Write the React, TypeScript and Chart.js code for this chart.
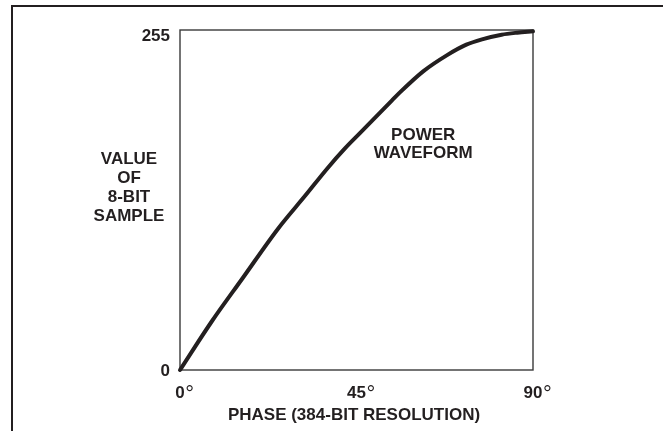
import React, { useEffect, useRef } from "react";
import { Chart, registerables } from "chart.js";

Chart.register(...registerables);

// Values
const phaseDeg = [0, 8, 16, 25, 32, 37.5, 42, 46, 54, 56, 62, 68, 73, 77, 82, 86, 90];
const sampleValue = [0, 36, 69, 106, 131, 151, 166, 178, 202, 208, 224, 236, 244, 248, 251.5, 253, 254];
const xTickValues = [0, 45, 90];
const yTickValues = [0, 255];
const yTitleLines = ["VALUE", "OF", "8-BIT", "SAMPLE"];
const xTitle = "PHASE (384-BIT RESOLUTION)";
const curveLabelLines = ["POWER", "WAVEFORM"];

const INK = "#231f20";
const FONT = "'Liberation Sans', Arial, Helvetica, sans-serif";

const decorPlugin = {
  id: "decor",
  beforeDatasetsDraw(chart: any) {
    const ctx = chart.ctx as CanvasRenderingContext2D;
    const a = chart.chartArea;
    ctx.save();
    ctx.strokeStyle = INK;
    ctx.lineWidth = 2;
    ctx.beginPath();
    ctx.moveTo(12, 431);
    ctx.lineTo(12, 6);
    ctx.lineTo(663, 6);
    ctx.stroke();
    ctx.strokeStyle = "#3a3a3a";
    ctx.lineWidth = 1.4;
    ctx.strokeRect(a.left, a.top, a.right - a.left, a.bottom - a.top);
    ctx.restore();
  },
  afterDraw(chart: any) {
    const ctx = chart.ctx as CanvasRenderingContext2D;
    const a = chart.chartArea;
    const xs = chart.scales.x;
    const ys = chart.scales.y;
    ctx.save();
    ctx.fillStyle = INK;
    ctx.font = `bold 17px ${FONT}`;
    ctx.textAlign = "right";
    ctx.textBaseline = "middle";
    yTickValues.forEach((v) => {
      let py = ys.getPixelForValue(v);
      if (v === yTickValues[yTickValues.length - 1]) py += 5;
      ctx.fillText(String(v), a.left - 10, py + 1);
    });
    xTickValues.forEach((v) => {
      const px = xs.getPixelForValue(v);
      ctx.font = `bold 17px ${FONT}`;
      ctx.textAlign = "center";
      ctx.textBaseline = "alphabetic";
      const txt = String(v);
      const w = ctx.measureText(txt).width;
      const base = a.bottom + 27.5;
      ctx.fillText(txt, px, base);
      ctx.font = `22px ${FONT}`;
      ctx.textAlign = "left";
      ctx.fillText("\u00B0", px + w / 2 + 0.5, base + 3.5);
    });
    ctx.font = `bold 17px ${FONT}`;
    ctx.textAlign = "center";
    ctx.textBaseline = "middle";
    ctx.fillText(xTitle, 354, a.bottom + 45.5);
    yTitleLines.forEach((t, i) => {
      ctx.fillText(t, 129, 159 + i * 19);
    });
    const lx = xs.getPixelForValue(62);
    const ly = ys.getPixelForValue(176);
    curveLabelLines.forEach((t, i) => {
      ctx.fillText(t, lx, ly + i * 18);
    });
    ctx.restore();
  },
};

export default function App() {
  const ref = useRef<HTMLCanvasElement | null>(null);
  useEffect(() => {
    if (!ref.current) return;
    const chart = new Chart(ref.current, {
      type: "line",
      data: {
        datasets: [
          {
            data: phaseDeg.map((x, i) => ({ x, y: sampleValue[i] })),
            borderColor: INK,
            borderWidth: 4,
            pointRadius: 0,
            cubicInterpolationMode: "monotone",
            borderCapStyle: "round",
            borderJoinStyle: "round",
            fill: false,
            clip: false as any,
          },
        ],
      },
      options: {
        animation: false,
        responsive: true,
        maintainAspectRatio: false,
        layout: { padding: { left: 180, top: 30, right: 130, bottom: 61 } },
        plugins: { legend: { display: false }, tooltip: { enabled: false } },
        scales: {
          x: { type: "linear", min: 0, max: 90, display: false },
          y: { type: "linear", min: 0, max: 255, display: false },
        },
      },
      plugins: [decorPlugin],
    });
    return () => chart.destroy();
  }, []);
  return (
    <div style={{ position: "absolute", left: 0, top: 0, width: 663, height: 431, background: "#fff" }}>
      <canvas ref={ref} />
    </div>
  );
}
